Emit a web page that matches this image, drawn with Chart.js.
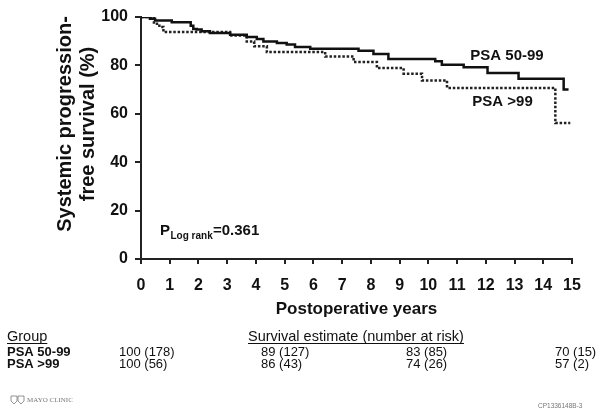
<!DOCTYPE html>
<html>
<head>
<meta charset="utf-8">
<script src="https://cdn.jsdelivr.net/npm/chart.js@4"></script>
<style>
  html, body { margin: 0; padding: 0; background: #fff; }
  #wrap { width: 600px; height: 419px; position: relative; }
</style>
</head>
<body>
<div id="wrap"><canvas id="kmChart"></canvas></div>
<script>
// Kaplan-Meier steps: year at which the curve drops, value after the drop
const yearsA = [0, 0.31, 0.49, 1.07, 1.73, 1.82, 1.94, 2.11, 2.40, 3.10, 3.68, 4.03, 4.26, 4.73, 5.07, 5.36, 5.89, 7.57, 8.09, 8.61, 10.24, 10.47, 11.23, 12.06, 13.14, 14.71, 14.88];
const survA  = [100, 99.3, 98.6, 97.8, 96.4, 95.0, 94.8, 94.1, 93.4, 92.7, 91.7, 90.9, 89.9, 89.3, 88.6, 87.6, 86.9, 86.1, 84.7, 82.6, 81.7, 80.3, 79.2, 76.9, 74.5, 70.0, 70.0];

const yearsB = [0, 0.45, 0.64, 0.78, 3.10, 3.68, 3.94, 4.38, 6.41, 7.40, 8.21, 9.14, 9.78, 10.65, 14.42, 14.94];
const survB  = [100, 97.2, 95.9, 93.8, 92.4, 89.9, 87.9, 85.5, 83.7, 81.4, 78.9, 76.6, 73.8, 70.7, 56.2, 56.2];

const seriesNames = ['PSA 50-99', 'PSA >99'];

// risk table
const tableHeader = ['Group', 'Survival estimate (number at risk)'];
const riskA = ['100 (178)', '89 (127)', '83 (85)', '70 (15)'];
const riskB = ['100 (56)', '86 (43)', '74 (26)', '57 (2)'];

const FONT = "'Liberation Sans', Arial, sans-serif";

function toPoints(xs, ys) {
  return xs.map((x, i) => ({ x: x, y: ys[i] }));
}

// texts drawn on top: labels, p value, y title, table, footer
const extraText = {
  id: 'extraText',
  afterDraw(chart) {
    const ctx = chart.ctx;
    const xs = chart.scales.x, ys = chart.scales.y;
    ctx.save();
    ctx.fillStyle = '#111';

    // y axis title, two lines
    ctx.save();
    ctx.translate(65, 124);
    ctx.rotate(-Math.PI / 2);
    ctx.font = 'bold 20px ' + FONT;
    ctx.textAlign = 'center';
    ctx.textBaseline = 'middle';
    ctx.fillText('Systemic progression-', 0, 0);
    ctx.fillText('free survival (%)', 0, 23);
    ctx.restore();

    // curve labels
    ctx.font = 'bold 15px ' + FONT;
    ctx.textBaseline = 'middle';
    ctx.textAlign = 'left';
    ctx.fillText(seriesNames[0], xs.getPixelForValue(11.46), ys.getPixelForValue(84));
    ctx.fillText(seriesNames[1], xs.getPixelForValue(11.53), ys.getPixelForValue(64.8));

    // P log rank
    ctx.textBaseline = 'alphabetic';
    ctx.font = 'bold 15px ' + FONT;
    ctx.fillText('P', 160, 235);
    ctx.font = 'bold 10px ' + FONT;
    ctx.fillText('Log rank', 170.5, 239);
    ctx.font = 'bold 15px ' + FONT;
    ctx.fillText('=0.361', 213, 235);

    // table header, underlined
    ctx.font = '14.5px ' + FONT;
    const hx = [7, 248];
    tableHeader.forEach((t, i) => {
      ctx.fillText(t, hx[i], 341);
      const w = ctx.measureText(t).width;
      ctx.fillRect(hx[i], 343, w, 1);
    });

    const cols = [119, 261, 406, 555];
    ctx.font = 'bold 13px ' + FONT;
    ctx.fillText(seriesNames[0], 7, 356);
    ctx.fillText(seriesNames[1], 7, 368);
    ctx.font = '13px ' + FONT;
    riskA.forEach((t, i) => ctx.fillText(t, cols[i], 356));
    riskB.forEach((t, i) => ctx.fillText(t, cols[i], 368));

    // footer
    ctx.fillStyle = '#777';
    ctx.strokeStyle = '#777';
    ctx.lineWidth = 0.8;
    [11, 18].forEach(sx => {
      ctx.beginPath();
      ctx.moveTo(sx, 396); ctx.lineTo(sx + 6, 396); ctx.lineTo(sx + 6, 401);
      ctx.lineTo(sx + 3, 404); ctx.lineTo(sx, 401); ctx.closePath();
      ctx.stroke();
    });
    ctx.font = '7px "Liberation Serif", serif';
    ctx.fillText('MAYO CLINIC', 27, 402);
    ctx.font = '6.5px ' + FONT;
    ctx.fillText('CP1336148B-3', 538, 408);
    ctx.restore();
  }
};

const data = {
  datasets: [{
    label: seriesNames[0],
    data: toPoints(yearsA, survA),
    borderColor: '#111',
    borderWidth: 2.5,
    stepped: 'before',
    pointRadius: 0,
    fill: false
  },
  {
    label: seriesNames[1],
    data: toPoints(yearsB, survB),
    borderColor: '#222',
    borderWidth: 2.5,
    borderDash: [2.5, 1.8],
    stepped: 'before',
    pointRadius: 0,
    fill: false
  }]
};

const config = {
  type: 'line',
  data: data,
  options: {
    responsive: true,
    maintainAspectRatio: false,
    animation: false,
    layout: { padding: { left: 0, right: 28, top: 17, bottom: 0 } },
    plugins: {
      legend: { display: false },
      tooltip: { enabled: false }
    },
    scales: {
      x: {
        type: 'linear',
        min: 0,
        max: 15,
        afterFit(scale) { scale.height = 160; },
        border: { color: '#222', width: 2 },
        grid: { drawOnChartArea: false, tickLength: 5, color: '#222', lineWidth: 2 },
        ticks: { stepSize: 1, padding: 12, color: '#111', font: { family: FONT, size: 16, weight: 'bold' } },
        title: {
          display: true,
          text: 'Postoperative years',
          color: '#111',
          font: { family: FONT, size: 17, weight: 'bold' },
          padding: { top: 0, bottom: 99 }
        }
      },
      y: {
        min: 0,
        max: 100,
        afterFit(scale) { scale.width = 141; },
        border: { color: '#222', width: 2 },
        grid: { drawOnChartArea: false, tickLength: 6, color: '#222', lineWidth: 2 },
        ticks: { stepSize: 20, padding: 7, color: '#111', font: { family: FONT, size: 16, weight: 'bold' } }
      }
    }
  },
  plugins: [extraText]
};

const myChart = new Chart(document.getElementById('kmChart'), config);
</script>
</body>
</html>
